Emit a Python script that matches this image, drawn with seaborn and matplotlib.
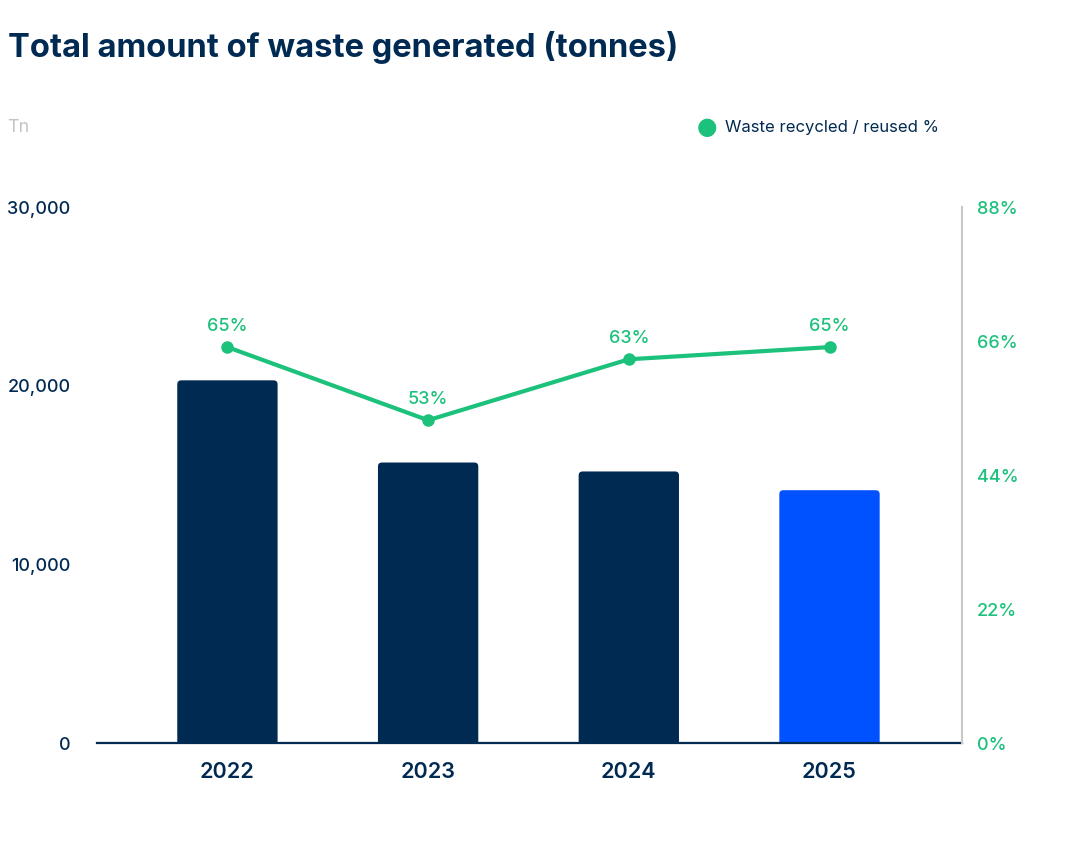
import matplotlib
matplotlib.use("Agg")
import matplotlib.pyplot as plt
from matplotlib.patches import FancyBboxPatch
import seaborn as sns
import pandas as pd

years = ["2022", "2023", "2024", "2025"]
waste_tonnes = [20300, 15700, 15200, 14150]
recycled_pct = [65, 53, 63, 65]
left_ticks = [0, 10000, 20000, 30000]
right_ticks = [0, 22, 44, 66, 88]

NAVY = "#002A52"
BLUE = "#0051FF"
GREEN = "#1CC17B"
bar_colors = [NAVY, NAVY, NAVY, BLUE]

sns.set_theme(style="white")
plt.rcParams["font.family"] = ["Inter", "DejaVu Sans"]

df = pd.DataFrame({"year": years, "waste": waste_tonnes, "pct": recycled_pct})

fig = plt.figure(figsize=(10.8, 8.64), dpi=100)
ax = fig.add_axes([0.0898, 0.14, 0.8009, 0.6204])

sns.barplot(data=df, x="year", y="waste", hue="year", palette=bar_colors,
            width=0.5, legend=False, ax=ax, saturation=1)
ax.set_xlim(-0.65, 3.66)
ax.set_ylim(0, 30000)

# rounded top corners
ypx_per_unit = 536 / 30000
xpx_per_unit = 201
r_px = 4
for p in list(ax.patches):
    x, y0, w, h = p.get_x(), p.get_y(), p.get_width(), p.get_height()
    col = p.get_facecolor()
    p.set_visible(False)
    fb = FancyBboxPatch((x, -600), w, h + 600,
                        boxstyle=f"round,pad=0,rounding_size={r_px / xpx_per_unit}",
                        mutation_aspect=xpx_per_unit / ypx_per_unit,
                        facecolor=col, edgecolor="none", zorder=2)
    ax.add_patch(fb)

ax.set_yticks(left_ticks)
ax.set_yticklabels([f"{v:,}" for v in left_ticks], color=NAVY, fontsize=13, fontweight="medium")
ax.tick_params(axis="y", length=0, pad=19)
ax.tick_params(axis="x", length=0, pad=14)
for lab in ax.get_xticklabels():
    lab.set_color(NAVY)
    lab.set_fontsize(15.5)
    lab.set_fontweight("semibold")
ax.set_xlabel("")
ax.set_ylabel("")
for s in ["top", "left", "right"]:
    ax.spines[s].set_visible(False)
ax.spines["bottom"].set_color(NAVY)
ax.spines["bottom"].set_linewidth(1.6)
ax.spines["bottom"].set_zorder(3)

ax2 = ax.twinx()
sns.lineplot(x=[0, 1, 2, 3], y=recycled_pct, ax=ax2, color=GREEN, linewidth=3,
             marker="o", markersize=9, markeredgewidth=0)
ax2.set_ylim(0, 88)
ax2.set_yticks(right_ticks)
ax2.set_yticklabels([f"{v}%" for v in right_ticks], color=GREEN, fontsize=13, fontweight="medium")
ax2.tick_params(axis="y", length=0, pad=11)
for s in ["top", "left", "bottom"]:
    ax2.spines[s].set_visible(False)
ax2.spines["right"].set_color("#C8C8C8")
ax2.spines["right"].set_linewidth(1.5)
ax2.set_ylabel("")
ax2.set_xlim(-0.65, 3.66)

for i, v in enumerate(recycled_pct):
    ax2.annotate(f"{v}%", (i, v), xytext=(0, 9), textcoords="offset points",
                 ha="center", va="bottom", color=GREEN, fontsize=13, fontweight="medium")

fig.text(0.007, 0.945, "Total amount of waste generated (tonnes)", color=NAVY,
         fontsize=23.5, fontweight="bold", ha="left", va="center")
fig.text(0.007, 0.853, "Tn", color="#C4C4C4", fontsize=13, ha="left", va="center")

fig.text(0.655, 0.853, "\u25CF", color=GREEN, fontsize=17, ha="center", va="center",
         family=["DejaVu Sans"])
fig.text(0.671, 0.853, "Waste recycled / reused %", color=NAVY, fontsize=12,
         ha="left", va="center")

fig.savefig("out.png", dpi=100, facecolor="white")
